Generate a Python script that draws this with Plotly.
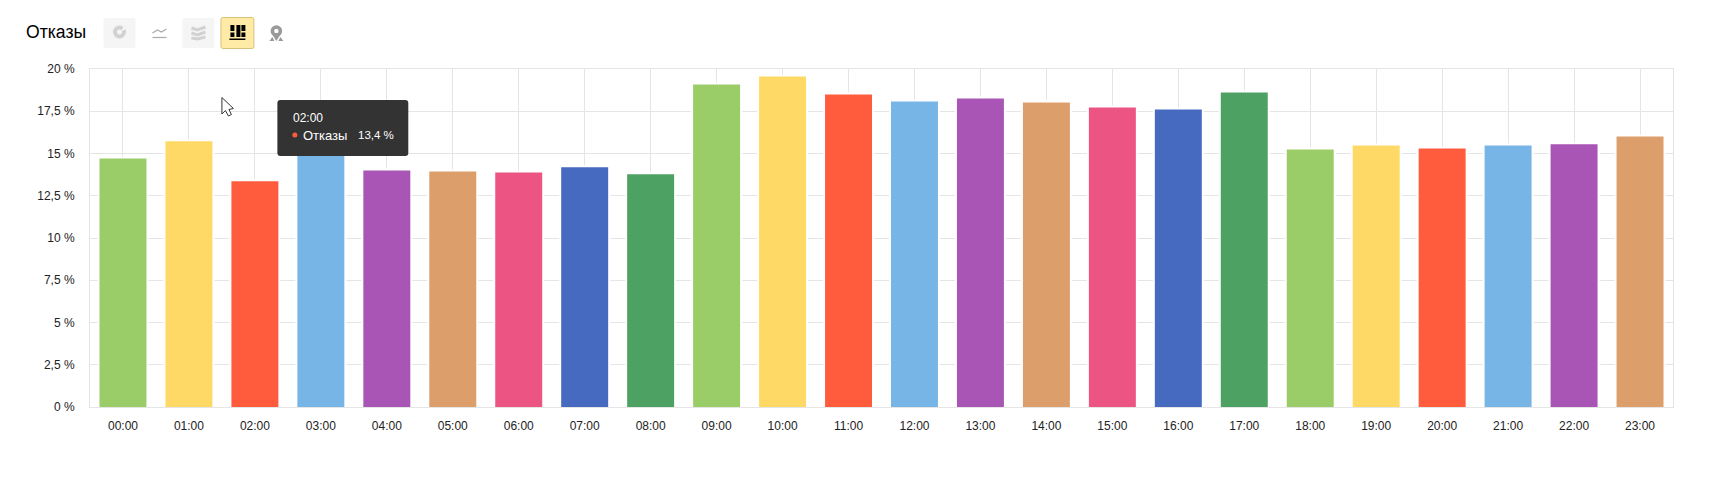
import plotly.graph_objects as go

hours = ["00:00","01:00","02:00","03:00","04:00","05:00","06:00","07:00","08:00","09:00","10:00","11:00",
         "12:00","13:00","14:00","15:00","16:00","17:00","18:00","19:00","20:00","21:00","22:00","23:00"]
bounce = [14.71,15.72,13.36,15.2,14.0,13.94,13.88,14.18,13.77,19.08,19.56,18.49,
          18.08,18.26,18.02,17.72,17.61,18.61,15.24,15.48,15.30,15.48,15.54,16.01]
palette = ["#9ACD68","#FFD966","#FF5C3E","#78B5E7","#A855B5","#DC9E6B","#EC5483","#466AC0","#4DA163"]
y_ticks = [0,2.5,5,7.5,10,12.5,15,17.5,20]
y_labels = ["0 %","2,5 %","5 %","7,5 %","10 %","12,5 %","15 %","17,5 %","20 %"]

W, H = 1712, 497
L, T, PW, PH = 89.5, 69, 1584, 338
FONT = "Liberation Sans"
GRID = "#e5e5e5"

def fx(x): return (x - L) / PW
def fy(y): return 1 - (y - T) / PH

shapes = []
annotations = []

def rect(x0, y0, x1, y1, fill, line=None, r=0):
    a, b, c, d = fx(x0), fy(y0), fx(x1), fy(y1)
    if r:
        rx, ry = r / PW, r / PH
        path = (f"M {a+rx} {b} L {c-rx} {b} Q {c} {b} {c} {b-ry} L {c} {d+ry} Q {c} {d} {c-rx} {d} "
                f"L {a+rx} {d} Q {a} {d} {a} {d+ry} L {a} {b-ry} Q {a} {b} {a+rx} {b} Z")
        shapes.append(dict(type="path", xref="paper", yref="paper", path=path, fillcolor=fill,
                           line=dict(color=line or fill, width=1 if line else 0), layer="above"))
    else:
        shapes.append(dict(type="rect", xref="paper", yref="paper", x0=a, y0=b, x1=c, y1=d, fillcolor=fill,
                           line=dict(color=line or fill, width=1 if line else 0), layer="above"))

def circle(cx, cy, r, fill):
    shapes.append(dict(type="circle", xref="paper", yref="paper", x0=fx(cx-r), x1=fx(cx+r),
                       y0=fy(cy+r), y1=fy(cy-r), fillcolor=fill, line=dict(width=0), layer="above"))

def poly(points, fill=None, line=None, width=1.5):
    p = "M " + " L ".join(f"{fx(x)} {fy(y)}" for x, y in points)
    if fill:
        p += " Z"
    shapes.append(dict(type="path", xref="paper", yref="paper", path=p, fillcolor=fill or "rgba(0,0,0,0)",
                       line=dict(color=line or "rgba(0,0,0,0)", width=width if line else 0), layer="above"))

def text(x, y, s, size, color):
    annotations.append(dict(xref="paper", yref="paper", x=fx(x), y=fy(y), text=s, showarrow=False,
                            xanchor="left", yanchor="middle", align="left", borderpad=0,
                            font=dict(family=FONT, size=size, color=color)))

# header
text(24, 32, "Отказы", 17.6, "#000000")
rect(103, 18, 135, 48, "#f5f5f5", r=2)
circle(119, 32, 6.5, "#d2d2d2")
circle(119, 32, 2.5, "#f5f5f5")
poly([(120, 32), (124, 25), (127, 28)], fill="#f5f5f5")
poly([(152, 33), (157, 30), (161, 32), (166, 29)], line="#aaaaaa", width=1.2)
poly([(152, 37.5), (166, 37.5)], line="#aaaaaa", width=1.2)
rect(182, 18, 214, 48, "#f5f5f5", r=2)
poly([(191, 28), (197, 30), (205, 27)], line="#d2d2d2", width=3)
poly([(191, 33), (197, 35), (205, 32)], line="#d2d2d2", width=3)
poly([(191, 38), (197, 39), (205, 37)], line="#d2d2d2", width=3)
rect(220.5, 17.5, 253.5, 48.5, "#FFEBA6", line="#D6C27A", r=2)
for a in [(230, 25, 234, 31), (230, 32.5, 234, 37), (236, 25, 240, 37), (241, 25, 245, 31), (241, 32.5, 245, 37)]:
    rect(a[0], a[1], a[2], a[3], "#000000")
rect(229, 38.5, 245, 40, "#000000")
circle(276, 31, 5.8, "#9a9a9a")
circle(276, 31, 2.2, "#ffffff")
poly([(271, 33), (281, 33), (276, 41)], fill="#9a9a9a")
poly([(269, 41), (272, 37), (274, 41)], fill="#9a9a9a")
poly([(278, 41), (280, 37), (283, 41)], fill="#9a9a9a")

# tooltip
rect(277, 100, 408, 156, "#333333", r=3)
text(292, 118, "02:00", 12, "#ffffff")
circle(294.5, 135, 2.5, "#FF5C3E")
text(302, 135, "Отказы", 13, "#ffffff")
text(357, 135, "13,4 %", 11.5, "#ffffff")

# cursor
poly([(221.5, 97.5), (221.5, 114), (225, 110.5), (228, 116), (231, 114.5), (228.5, 109.5), (233, 108.5)],
     fill="#ffffff", line="#33333a", width=1)

colors = [palette[i % len(palette)] for i in range(len(hours))]

# The white outline straddles the bar edge, so the bar is extended by the outline's
# half-width at the top and slightly below the axis (clipped) at the bottom.
unit = 20 / PH
edge = 1 * unit
below = 3 * unit

fig = go.Figure(go.Bar(
    x=hours, y=[v + edge + below for v in bounce], base=-below, width=49/66,
    marker=dict(color=colors, line=dict(color="#ffffff", width=2)),
    hoverinfo="skip",
))

fig.update_layout(
    width=W, height=H, autosize=False,
    margin=dict(l=L, r=W-L-PW, t=T, b=H-T-PH, pad=0),
    paper_bgcolor="#ffffff", plot_bgcolor="#ffffff",
    showlegend=False, shapes=shapes, annotations=annotations,
    font=dict(family=FONT, size=12, color="#222222"),
)
fig.update_xaxes(
    type="category", categoryorder="array", categoryarray=hours, range=[-0.5, 23.5],
    showgrid=True, gridcolor=GRID, gridwidth=1,
    showline=True, linecolor=GRID, linewidth=1, mirror=True,
    ticks="", ticklabelstandoff=8, tickfont=dict(family=FONT, size=12, color="#222222"),
)
fig.update_yaxes(
    range=[0, 20], tickmode="array", tickvals=y_ticks, ticktext=y_labels,
    showgrid=True, gridcolor=GRID, gridwidth=1, zeroline=False,
    showline=True, linecolor=GRID, linewidth=1, mirror=True,
    ticks="", ticklabelstandoff=12, tickfont=dict(family=FONT, size=12, color="#222222"),
)

fig.write_html("out.html", config=dict(displayModeBar=False),
               post_script="document.body.style.margin='0';document.body.style.overflow='hidden';")
